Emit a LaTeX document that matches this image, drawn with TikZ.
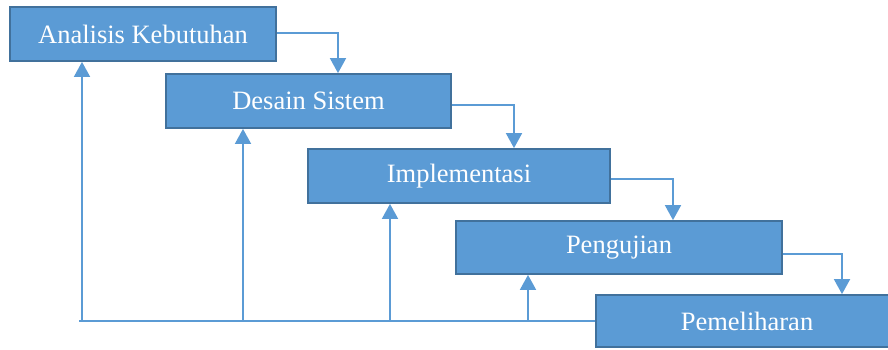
\documentclass[tikz,border=0pt]{standalone}
\usepackage{fontspec}
\setmainfont{Liberation Serif}
\usetikzlibrary{arrows.meta}
\definecolor{boxfill}{HTML}{5B9BD5}
\definecolor{boxline}{HTML}{41719C}
\definecolor{conncol}{HTML}{5B9BD5}
\tikzset{
  stagebox/.style={draw=boxline, fill=boxfill, line width=1.8pt, inner sep=0pt,
    text=white, font=\fontsize{26.5}{30}\selectfont},
  conn/.style={draw=conncol, line width=1.8pt, -{Triangle[width=16pt,length=15pt]}},
  baseline/.style={draw=conncol, line width=1.6pt}
}
\begin{document}
\begin{tikzpicture}[x=1pt,y=-1pt]
\useasboundingbox (0,0) rectangle (888,349);
\begin{scope}
\clip (0,0) rectangle (888,349);
\node[stagebox, minimum width=266pt, minimum height=54pt] (b1) at (143,34) {Analisis Kebutuhan};
\node[stagebox, minimum width=285pt, minimum height=54pt] (b2) at (308.5,101) {Desain Sistem};
\node[stagebox, minimum width=302pt, minimum height=54pt] (b3) at (459,176) {Implementasi};
\node[stagebox, minimum width=326pt, minimum height=53pt] (b4) at (619,247.5) {Pengujian};
\node[stagebox, minimum width=302pt, minimum height=52pt] (b5) at (747,321) {Pemeliharan};

% forward connectors
\draw[conn] ([yshift=1pt]b1.east) -| ([xshift=29.5pt]b2.north);
\draw[conn] ([yshift=-4pt]b2.east) -| ([xshift=55pt]b3.north);
\draw[conn] ([yshift=-3pt]b3.east) -| ([xshift=54pt]b4.north);
\draw[conn] ([yshift=-6.5pt]b4.east) -| ([xshift=95pt]b5.north);

% return line
\coordinate (s0) at (79,321);
\coordinate (r1) at (82,321);
\coordinate (r2) at (243,321);
\coordinate (r3) at (390,321);
\coordinate (r4) at (528,321);
\draw[baseline] (s0) -- (b5.west);
\draw[conn] (r1) -- (r1 |- b1.south);
\draw[conn] (r2) -- (r2 |- b2.south);
\draw[conn] (r3) -- (r3 |- b3.south);
\draw[conn] (r4) -- (r4 |- b4.south);
\end{scope}
\end{tikzpicture}
\end{document}
